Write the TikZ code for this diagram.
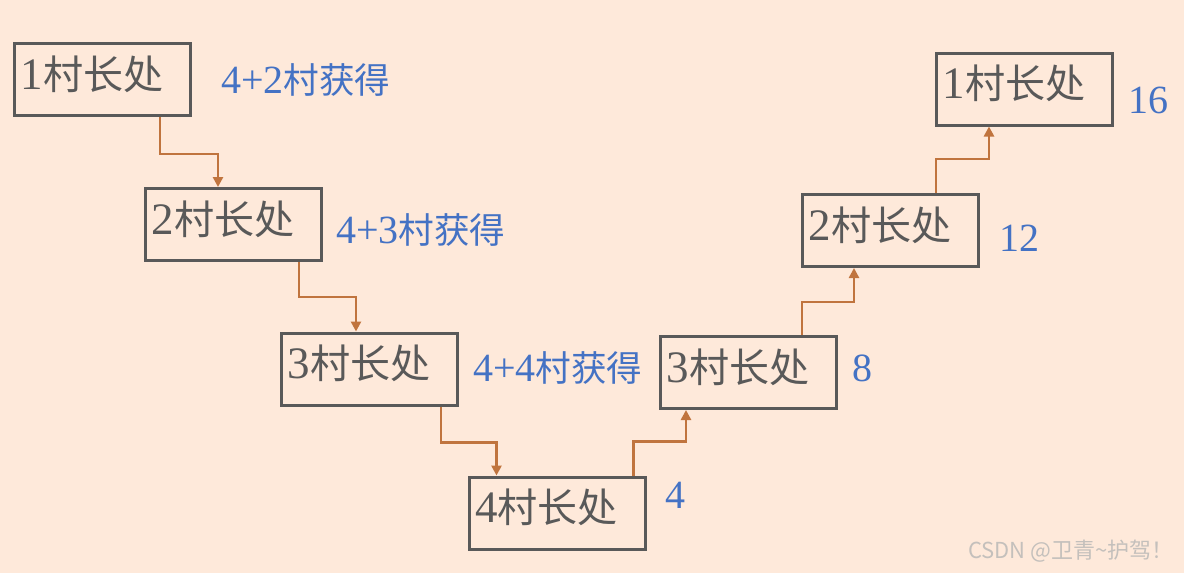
\documentclass[tikz,border=0pt]{standalone}
\usepackage{fontspec}
\setmainfont{Liberation Serif}
\newfontfamily\cjk{Noto Sans CJK SC}[Scale=0.89]
\newfontfamily\wmfont{Noto Sans CJK SC}
\usepackage{tikz}
\usetikzlibrary{calc,arrows.meta}
\definecolor{bgpeach}{HTML}{FEE9DA}
\definecolor{boxgray}{HTML}{595959}
\definecolor{labelblue}{HTML}{4472C4}
\definecolor{linkbrown}{HTML}{C0743E}
\definecolor{wmgray}{HTML}{C4C0BC}
\tikzset{
  box/.style={draw=boxgray,line width=3pt,minimum width=176pt,minimum height=72pt,
    text width=164pt,inner xsep=6pt,align=left,text=boxgray,text depth=14pt,
    font=\fontsize{45}{50}\selectfont},
  gain/.style={anchor=west,inner sep=0pt,text=labelblue,font=\fontsize{40}{44}\selectfont},
  link/.style={draw=linkbrown,line width=2.5pt,-{Triangle[length=10pt,width=10pt]}}
}

\begin{document}
\begin{tikzpicture}[x=1pt,y=-1pt]
                                     \fill[bgpeach] (0,0) rectangle (1184,573);
                                     \useasboundingbox (0,0) rectangle (1184,573);
                                     \node[box](b1)at(102.5,79.5){1{\cjk 村长处}};
                                     \node[box](b2)at(233.5,224.5){2{\cjk 村长处}};
                                     \node[box](b3)at(369.5,369){3{\cjk 村长处}};
                                     \node[box](b4)at(557,513){4{\cjk 村长处}};
                                     \node[box](b5)at(748.5,372.5){3{\cjk 村长处}};
                                     \node[box](b6)at(890.5,230.5){2{\cjk 村长处}};
                                     \node[box](b7)at(1024.5,89){1{\cjk 村长处}};
                                     \node[gain](g1)at(221,80){4+2{\cjk 村获得}};
                                     \node[gain](g2)at(336,230){4+3{\cjk 村获得}};
                                     \node[gain](g3)at(473,368){4+4{\cjk 村获得}};
                                     \node[gain](v4)at(665,495){4};
                                     \node[gain](v8)at(852,368){8};
                                     \node[gain](v12)at(999,238){12};
                                     \node[gain](v16)at(1128,100){16};
                                     \draw[link]($(b1.south west)+(147,0)$)--++(0,37)-|($(b2.north west)+(74,0)$);
                                     \draw[link]($(b2.south west)+(155,0)$)--++(0,35)-|($(b3.north west)+(76,0)$);
                                     \draw[link]($(b3.south west)+(161,0)$)--++(0,36)-|($(b4.north west)+(29,0)$);
                                     \draw[link]($(b4.north west)+(166,0)$)--++(0,-34)-|($(b5.south west)+(27,0)$);
                                     \draw[link]($(b5.north west)+(143,0)$)--++(0,-33)-|($(b6.south west)+(53,0)$);
                                     \draw[link]($(b6.north west)+(135,0)$)--++(0,-34)-|($(b7.south west)+(54,0)$);
                                     \node[anchor=east,inner sep=0pt,text=wmgray,font=\wmfont\fontsize{22}{25}\selectfont](wm)at(1174,551){CSDN @卫青\textasciitilde 护驾！};
                                 \end{tikzpicture}
\end{document}
